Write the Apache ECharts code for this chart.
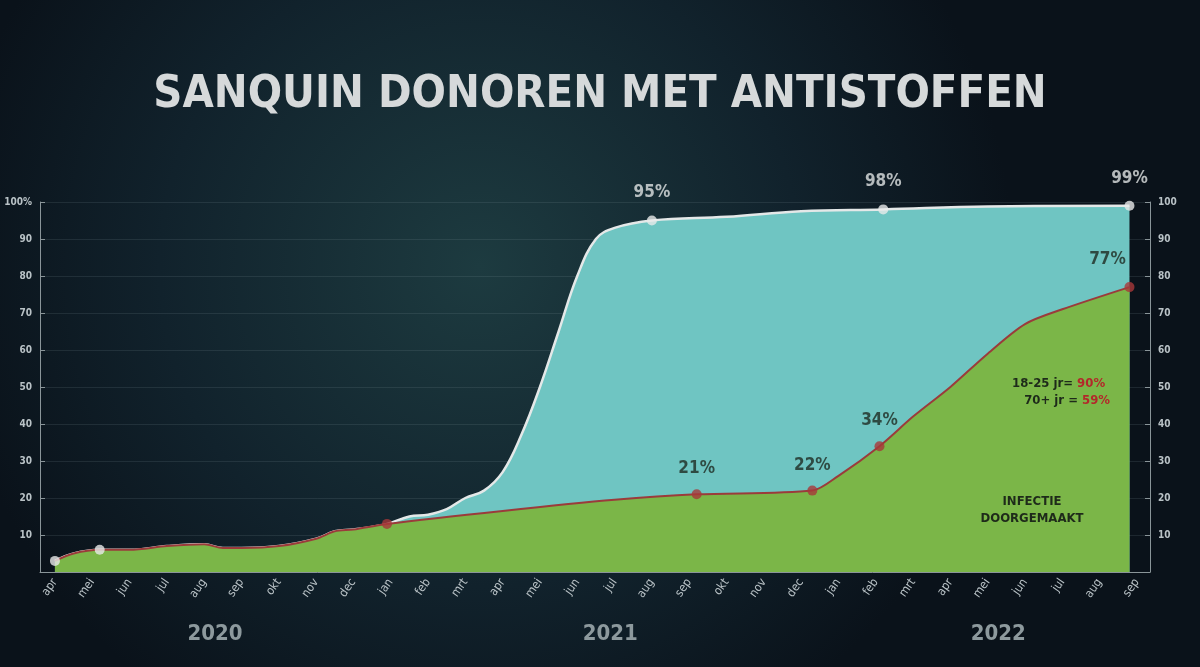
<!DOCTYPE html>
<html><head><meta charset="utf-8">
<script src="https://cdn.jsdelivr.net/npm/echarts@6/dist/echarts.min.js"></script>
<style>html,body{margin:0;padding:0;background:#0d1a22}#c{width:1200px;height:667px}</style>
</head><body><div id="c"></div>
<script>
// maanden apr 2020 t/m sep 2022 (index 0..29)
const months = ['apr','mei','jun','jul','aug','sep','okt','nov','dec','jan','feb','mrt','apr','mei','jun','jul','aug','sep','okt','nov','dec','jan','feb','mrt','apr','mei','jun','jul','aug','sep'];
const years = [['2020', 4.3], ['2021', 14.9], ['2022', 25.3]];
// [maandindex, %]
const vaccinated = [[0,3],[0.5,5],[1.2,6],[2,6],[3,7],[4,7.5],[4.5,6.5],[5,6.5],[6,7],[7,9],[7.5,11],[8,11.5],[8.9,13],[9.5,15],[10,15.5],[10.5,17],[11,20],[11.5,22],[12,27],[12.5,37],[13,50],[13.5,65],[14,80],[14.5,90],[15,93],[16,95],[18,96],[20,97.5],[22.2,98],[25,98.8],[28.8,99]];
const infected = [[0,3],[0.5,5],[1.2,6],[2,6],[3,7],[4,7.5],[4.5,6.5],[5,6.5],[6,7],[7,9],[7.5,11],[8,11.5],[8.9,13],[12,16.5],[15,19.5],[17.2,21],[20.3,22],[21,26],[22.1,34],[23,42],[24,50],[25,59],[26,67],[27,71],[28.8,77]];
const vacLabels = [[0,3,''],[1.2,6,''],[16,95,'95%'],[22.2,98,'98%'],[28.8,99,'99%']];
const infLabels = [[8.9,13,''],[17.2,21,'21%'],[20.3,22,'22%'],[22.1,34,'34%']];
const infEnd = [[28.8,77,'77%']];

const chart = echarts.init(document.getElementById('c'));
const tick = {color:'#b9c2c6', fontSize:10, fontWeight:'bold', fontFamily:'DejaVu Sans Condensed'};
const lbl = {show:true, formatter:p=>p.value[2], fontSize:17, fontWeight:'bold', fontFamily:'DejaVu Sans Condensed'};
chart.setOption({
  backgroundColor: new echarts.graphic.RadialGradient(0.4,0.4,0.8,[{offset:0,color:'#1d3b40'},{offset:0.6,color:'#11222c'},{offset:1,color:'#0a121a'}]),
  title:{text:'SANQUIN DONOREN MET ANTISTOFFEN', left:'center', top:68,
    textStyle:{color:'#d6d9da', fontSize:45, fontWeight:'bold', fontFamily:'DejaVu Sans Condensed'}},
  grid:{left:40, right:50, top:202, bottom:95},
  xAxis:{type:'value', min:-0.4, max:29.35, interval:1,
    axisLine:{lineStyle:{color:'#8a9599'}}, axisTick:{show:false}, splitLine:{show:false},
    axisLabel:{...tick, fontSize:12, fontWeight:'normal', rotate:55,
      customValues:months.map((m,i)=>i), formatter:v=>months[Math.round(v)]||''}},
  yAxis:[
    {type:'value', min:0, max:100, interval:10, position:'left',
      axisLine:{show:true, onZero:false, lineStyle:{color:'#8a9599'}}, axisTick:{show:true, inside:true},
      axisLabel:{...tick, formatter:v=>v===0?'':(v===100?'100%':v)},
      splitLine:{lineStyle:{color:'rgba(140,160,170,0.15)'}}},
    {type:'value', min:0, max:100, interval:10, position:'right',
      axisLine:{show:true, onZero:false, lineStyle:{color:'#8a9599'}}, axisTick:{show:true, inside:true},
      axisLabel:{...tick, formatter:v=>v===0?'':v}, splitLine:{show:false}}
  ],
  series:[
    {type:'line', data:vaccinated, smooth:0.4, symbol:'none', lineStyle:{color:'#e4e8e8', width:2.5},
      areaStyle:{color:'#6fc5c2', opacity:1}, z:2},
    {type:'line', data:infected, smooth:0.3, symbol:'none', lineStyle:{color:'#9b3b3b', width:2},
      areaStyle:{color:'#7bb648', opacity:1}, z:3},
    {type:'scatter', data:vacLabels, symbolSize:10, itemStyle:{color:'#e8eaea'}, z:5,
      label:{...lbl, position:'top', distance:14, color:'#e0e3e3'}},
    {type:'scatter', data:infLabels, symbolSize:10, itemStyle:{color:'#a8383a'}, z:5,
      label:{...lbl, position:'top', distance:12, color:'#1e2a22'}},
    {type:'scatter', data:infEnd, symbolSize:10, itemStyle:{color:'#a8383a'}, z:5,
      label:{...lbl, position:'top', distance:10, offset:[-22,-4], color:'#1e2a22'}}
  ],
  graphic:[
    ...years.map(y=>({type:'text', left:55+y[1]*37.3-28, top:623, style:{text:y[0], fill:'#8d999d', font:'bold 22px "DejaVu Sans Condensed"'}})),
    {type:'text', left:725, top:295, style:{text:'GEVACCINEERD', fill:'#1f3b3b', font:'bold 13px "DejaVu Sans Condensed"'}},
    {type:'text', x:1032, y:493, z:10, style:{text:'INFECTIE\nDOORGEMAAKT', fill:'#1e2a1a', align:'center', font:'bold 13px "DejaVu Sans Condensed"', lineHeight:17}},
    {type:'text', left:1012, top:375, z:10, style:{rich:{a:{fill:'#1e2a1a',font:'bold 13px "DejaVu Sans Condensed"'},r:{fill:'#b3282a',font:'bold 13px "DejaVu Sans Condensed"'}},
      text:'{a|18-25 jr= }{r|90%}\n{a|   70+ jr = }{r|59%}', lineHeight:17}}
  ]
});
</script></body></html>
